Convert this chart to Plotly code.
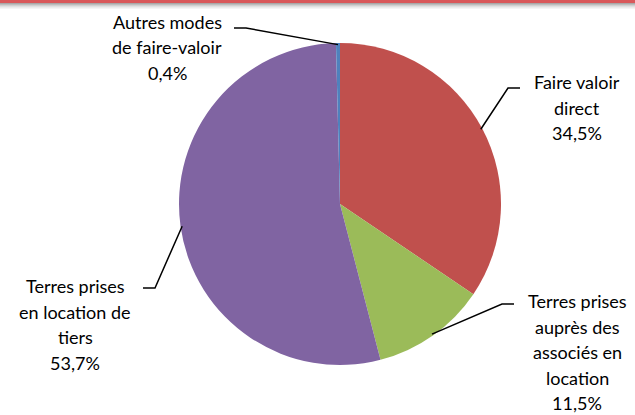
import math
import plotly.graph_objects as go

# ---- data ----
labels = [
    "Faire valoir direct",
    "Terres prises auprès des associés en location",
    "Terres prises en location de tiers",
    "Autres modes de faire-valoir",
]
label_lines = [
    ["Faire valoir", "direct"],
    ["Terres prises", "auprès des", "associés en", "location"],
    ["Terres prises", "en location de", "tiers"],
    ["Autres modes", "de faire-valoir"],
]
values = [34.5, 11.5, 53.7, 0.4]
colors = ["#C0504D", "#9BBB59", "#8064A2", "#4F81BD"]

W, H = 635, 415
CX, CY, R = 340, 204, 161  # pie centre / radius in pixels

# label layout (pixel positions: text centre x, first line y, elbow point, line end)
label_pos = [
    dict(tx=577, ty=82, elbow=(508, 88), end=(520, 88)),
    dict(tx=577, ty=301, elbow=(502, 304), end=(514, 304)),
    dict(tx=75, ty=286, elbow=(155, 288), end=(143, 288)),
    dict(tx=167, ty=22, elbow=(246, 28), end=(234, 28)),
]

FONT = "Lato, sans-serif"
FS = 18
LH = 25.5


def px(x):
    return x / W


def py(y):
    return 1 - y / H


fig = go.Figure(
    go.Pie(
        labels=labels,
        values=values,
        sort=False,
        direction="clockwise",
        rotation=0,
        marker=dict(colors=colors, line=dict(width=0)),
        textinfo="none",
        hoverinfo="label+percent",
        showlegend=False,
        domain=dict(x=[px(CX - R), px(CX + R)], y=[py(CY + R), py(CY - R)]),
    )
)

total = sum(values)
cum = 0
annotations = []
shapes = []
for i, v in enumerate(values):
    mid = (cum + v / 2) / total
    cum += v
    ang = 2 * math.pi * mid
    ex = CX + R * 0.99 * math.sin(ang)
    ey = CY - R * 0.99 * math.cos(ang)
    lp = label_pos[i]
    pct = f"{v:.1f}".replace(".", ",") + "%"
    lines = label_lines[i] + [pct]
    for k, t in enumerate(lines):
        annotations.append(
            dict(
                x=px(lp["tx"]), y=py(lp["ty"] + k * LH), xref="paper", yref="paper",
                text=t, showarrow=False, xanchor="center", yanchor="middle",
                font=dict(family=FONT, size=FS, color="#000000"),
            )
        )
    (bx, by), (dx, dy) = lp["elbow"], lp["end"]
    shapes.append(
        dict(
            type="path", xref="paper", yref="paper",
            path=f"M {px(ex)},{py(ey)} L {px(bx)},{py(by)} L {px(dx)},{py(dy)}",
            line=dict(color="#000000", width=1.5),
        )
    )

# top decorative band: red rule with grey shadow
shapes.append(dict(type="rect", xref="paper", yref="paper", x0=0, x1=1,
                   y0=py(3), y1=1, fillcolor="#D9585A", line=dict(width=0), layer="above"))
greys = ["#A8A8A8", "#BDBDBD", "#D0D0D0", "#E0E0E0", "#ECECEC", "#F5F5F5"]
for j, g in enumerate(greys):
    shapes.append(dict(type="rect", xref="paper", yref="paper", x0=0, x1=1,
                       y0=py(4 + j), y1=py(3 + j), fillcolor=g, line=dict(width=0), layer="above"))

fig.update_layout(
    width=W, height=H,
    margin=dict(l=0, r=0, t=0, b=0),
    paper_bgcolor="#FFFFFF", plot_bgcolor="#FFFFFF",
    annotations=annotations, shapes=shapes,
)

fig.write_html(
    "out.html",
    config={"displayModeBar": False},
    post_script="document.body.style.margin='0';document.body.style.overflow='hidden';",
)
